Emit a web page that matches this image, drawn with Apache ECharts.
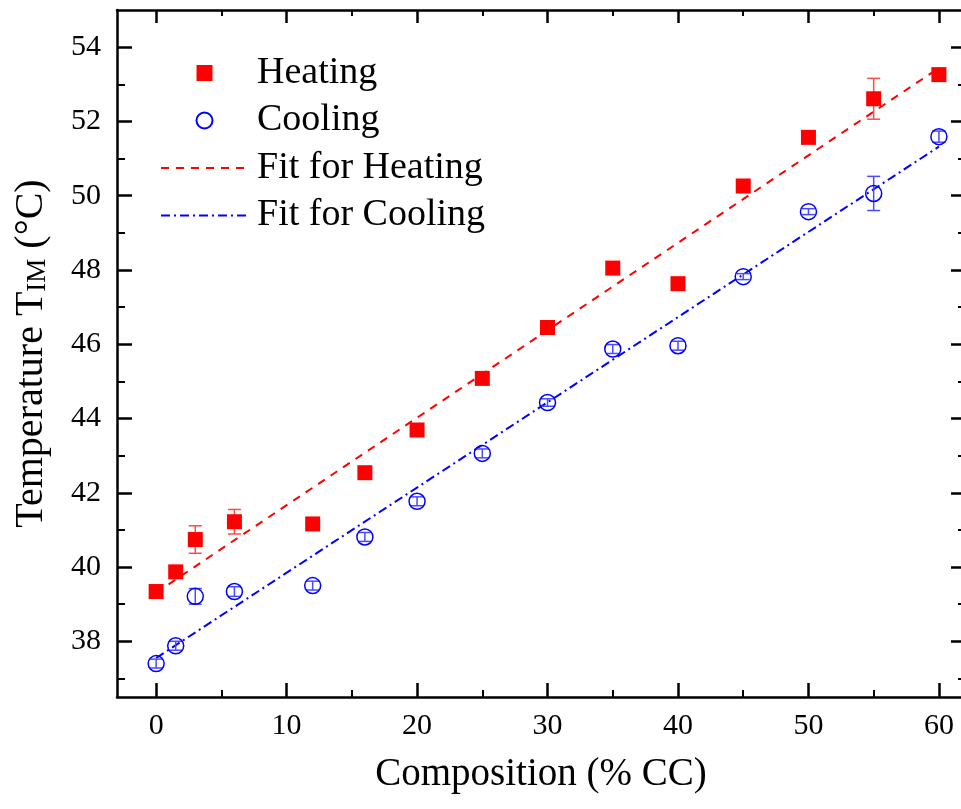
<!DOCTYPE html>
<html>
<head>
<meta charset="utf-8">
<title>Temperature vs Composition</title>
<script src="https://cdn.jsdelivr.net/npm/echarts@6/dist/echarts.min.js"></script>
<style>
  html, body { margin: 0; padding: 0; background: #ffffff; }
  #chart { width: 961px; height: 809px; }
</style>
</head>
<body>
<div id="chart"></div>
<script>
// Composition (% CC) of each sample
const composition = [0, 1.5, 3, 6, 12, 16, 20, 25, 30, 35, 40, 45, 50, 55, 60];
// Transition temperature on heating and its uncertainty (°C)
const heating = [39.34, 39.87, 40.74, 41.22, 41.16, 42.54, 43.69, 45.08, 46.45, 48.05, 47.63, 50.26, 51.57, 52.61, 53.26];
const heatingErr = [0.05, 0.05, 0.37, 0.33, 0.12, 0.12, 0.05, 0.05, 0.05, 0.05, 0.05, 0.05, 0.05, 0.55, 0.05];
// Transition temperature on cooling and its uncertainty (°C)
const cooling = [37.40, 37.88, 39.21, 39.34, 39.50, 40.81, 41.77, 43.06, 44.43, 45.87, 45.96, 47.82, 49.57, 50.06, 51.59];
const coolingErr = [0.12, 0.12, 0.21, 0.13, 0.12, 0.12, 0.12, 0.12, 0.10, 0.12, 0.12, 0.08, 0.08, 0.46, 0.15];
// Linear fits, evaluated at the ends of the composition range
const fitX = [0, 60];
const heatingFit = [39.31, 53.44];
const coolingFit = [37.55, 51.32];
// Tick positions
const xMajorTicks = [0, 10, 20, 30, 40, 50, 60];
const xMinorTicks = [5, 15, 25, 35, 45, 55];
const yMajorTicks = [38, 40, 42, 44, 46, 48, 50, 52, 54];
const yMinorTicks = [37, 39, 41, 43, 45, 47, 49, 51, 53];

const FONT = "'Liberation Serif', 'Times New Roman', serif";
const X_MIN = -3, X_MAX = 62, Y_MIN = 36.5, Y_MAX = 55;

const pairs = (xs, ys) => xs.map((x, i) => [x, ys[i]]);
const withErr = (xs, ys, es) => xs.map((x, i) => [x, ys[i], es[i]]);

function makeXAxis(position, ticks, len, width, showLine, showLabels) {
  return {
    type: 'value', position: position, min: X_MIN, max: X_MAX,
    splitLine: { show: false },
    axisLine: { show: showLine, onZero: false, lineStyle: { color: '#000', width: 2.5 } },
    axisTick: { show: true, inside: true, length: len, customValues: ticks,
                lineStyle: { color: '#000', width: width } },
    axisLabel: showLabels
      ? { show: true, customValues: ticks, margin: 14, color: '#000', fontSize: 30, fontFamily: FONT }
      : { show: false }
  };
}
function makeYAxis(position, ticks, len, width, showLine, showLabels) {
  return {
    type: 'value', position: position, min: Y_MIN, max: Y_MAX,
    splitLine: { show: false },
    axisLine: { show: showLine, onZero: false, lineStyle: { color: '#000', width: 2.5 } },
    axisTick: { show: true, inside: true, length: len, customValues: ticks,
                lineStyle: { color: '#000', width: width } },
    axisLabel: showLabels
      ? { show: true, customValues: ticks, margin: 16, color: '#000', fontSize: 30, fontFamily: FONT }
      : { show: false }
  };
}

const xAxes = [
  makeXAxis('bottom', xMajorTicks, 14, 2.5, true, true),
  makeXAxis('bottom', xMinorTicks, 7, 2, false, false),
  makeXAxis('top', xMajorTicks, 13, 2.5, true, false),
  makeXAxis('top', xMinorTicks, 6, 2, false, false)
];
Object.assign(xAxes[0], {
  name: 'Composition (% CC)', nameLocation: 'middle', nameGap: 58,
  nameTextStyle: { color: '#000', fontSize: 39, fontFamily: FONT, lineHeight: 39 }
});

const yAxes = [
  makeYAxis('left', yMajorTicks, 15, 2.5, true, true),
  makeYAxis('left', yMinorTicks, 8, 2, false, false),
  makeYAxis('right', yMajorTicks, 14, 2.5, true, false),
  makeYAxis('right', yMinorTicks, 7, 2, false, false)
];
Object.assign(yAxes[0], {
  name: 'Temperature T{sub|IM} (°C)', nameLocation: 'middle', nameGap: 66,
  nameTextStyle: {
    color: '#000', fontSize: 40, fontFamily: FONT, lineHeight: 40,
    rich: { sub: { color: '#000', fontSize: 27, fontFamily: FONT, lineHeight: 6, verticalAlign: 'bottom' } }
  }
});

// Vertical error bar with caps, positioned through the axis scales
function errorBarRenderer(color) {
  return function (params, api) {
    const x = api.value(0), y = api.value(1), e = api.value(2);
    const hi = api.coord([x, y + e]);
    const lo = api.coord([x, y - e]);
    const cap = 6.5;
    const style = { stroke: color, lineWidth: 1.5, fill: null };
    return {
      type: 'group',
      children: [
        { type: 'line', shape: { x1: hi[0], y1: hi[1], x2: lo[0], y2: lo[1] }, style: style },
        { type: 'line', shape: { x1: hi[0] - cap, y1: hi[1], x2: hi[0] + cap, y2: hi[1] }, style: style },
        { type: 'line', shape: { x1: lo[0] - cap, y1: lo[1], x2: lo[0] + cap, y2: lo[1] }, style: style }
      ]
    };
  };
}

// legend entries for the fit lines show only the line, not a marker
const hiddenMarker = { color: 'rgba(0,0,0,0)', borderColor: 'rgba(0,0,0,0)', borderWidth: 0, opacity: 0 };

const option = {
  backgroundColor: '#ffffff',
  animation: false,
  // the frame's right edge sits just beyond the canvas
  grid: { left: 117, width: 848, top: 10, bottom: 112, containLabel: false, outerBoundsMode: 'none' },
  xAxis: xAxes,
  yAxis: yAxes,
  legend: {
    orient: 'vertical', left: 160, top: 54, padding: 0,
    itemWidth: 87, itemHeight: 16, itemGap: 9.5, symbolKeepAspect: true,
    data: [
      { name: 'Heating', icon: 'path://M0 0H10V10H0Z' },
      { name: 'Cooling' },
      { name: 'Fit for Heating', itemStyle: hiddenMarker },
      { name: 'Fit for Cooling', itemStyle: hiddenMarker }
    ],
    textStyle: { color: '#000', fontSize: 38, fontFamily: FONT, lineHeight: 38, padding: [0, 0, 0, 4] },
    selectedMode: false
  },
  series: [
    {
      name: 'Fit for Heating', type: 'line', xAxisIndex: 0, yAxisIndex: 0,
      data: pairs(fitX, heatingFit), symbol: 'none', showSymbol: false, z: 1,
      lineStyle: { color: '#ff0000', width: 2, type: [8, 7] },
      itemStyle: { color: '#ff0000' }
    },
    {
      name: 'Fit for Cooling', type: 'line', xAxisIndex: 0, yAxisIndex: 0,
      data: pairs(fitX, coolingFit), symbol: 'none', showSymbol: false, z: 1,
      lineStyle: { color: '#0000ff', width: 2, type: [9, 4, 2, 4] },
      itemStyle: { color: '#0000ff' }
    },
    {
      name: 'Heating error', type: 'custom', xAxisIndex: 0, yAxisIndex: 0, z: 2,
      renderItem: errorBarRenderer('#ff4a4a'),
      data: withErr(composition, heating, heatingErr),
      encode: { x: 0, y: [1] }
    },
    {
      name: 'Cooling error', type: 'custom', xAxisIndex: 0, yAxisIndex: 0, z: 2,
      renderItem: errorBarRenderer('#4a4aff'),
      data: withErr(composition, cooling, coolingErr),
      encode: { x: 0, y: [1] }
    },
    {
      name: 'Heating', type: 'scatter', xAxisIndex: 0, yAxisIndex: 0, z: 3,
      data: pairs(composition, heating), symbol: 'rect', symbolSize: 15,
      itemStyle: { color: '#ff0000', opacity: 1 }
    },
    {
      name: 'Cooling', type: 'scatter', xAxisIndex: 0, yAxisIndex: 0, z: 3,
      data: pairs(composition, cooling), symbol: 'circle', symbolSize: 16,
      itemStyle: { color: 'rgba(0,0,0,0)', borderColor: '#0000ff', borderWidth: 1.5, opacity: 1 }
    }
  ]
};

const chart = echarts.init(document.getElementById('chart'), null, { renderer: 'canvas' });
chart.setOption(option);
</script>
</body>
</html>
